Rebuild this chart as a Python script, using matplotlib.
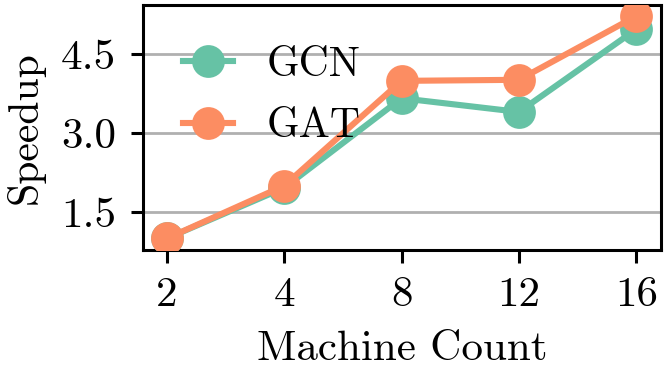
import matplotlib.pyplot as plt

plt.rcParams['font.family'] = 'cmr10'
plt.rcParams['axes.formatter.use_mathtext'] = True
plt.rcParams['mathtext.fontset'] = 'cm'

machines = ['2', '4', '8', '12', '16']
gcn = [1.0, 1.96, 3.66, 3.40, 4.97]
gat = [1.0, 2.0, 3.99, 4.01, 5.22]

fig = plt.figure(figsize=(3.32, 1.845), dpi=200)
ax = fig.add_axes([0.215, 0.3225, 0.7805, 0.664])

x = range(len(machines))
ax.plot(x, gcn, color='#66c2a5', marker='o', markersize=10.8, linewidth=2.2, label='GCN', zorder=3)
ax.plot(x, gat, color='#fc8d62', marker='o', markersize=10.8, linewidth=2.2, label='GAT', zorder=4)

ax.set_xticks(list(x))
ax.set_xticklabels(machines)
ax.set_yticks([1.5, 3.0, 4.5])
ax.set_yticklabels(['1.5', '3.0', '4.5'])
ax.set_xlim(-0.205, 4.21)
ax.set_ylim(0.78, 5.43)

ax.yaxis.grid(True, color='#b0b0b0', linewidth=1.0, zorder=0)
ax.set_axisbelow(True)
for s in ax.spines.values():
    s.set_linewidth(1.1)
ax.tick_params(labelsize=15.5, length=4.5, width=1.1, pad=5)

ax.set_xlabel('Machine Count', fontsize=15.5, labelpad=6)
ax.set_ylabel('Speedup', fontsize=15, labelpad=6)

ax.legend(loc='upper left', bbox_to_anchor=(0.022, 0.95), frameon=False, fontsize=15,
          handlelength=1.2, labelspacing=0.58, handletextpad=0.8, borderaxespad=0.3,
          borderpad=0.4)

fig.savefig('out.png', dpi=200)
